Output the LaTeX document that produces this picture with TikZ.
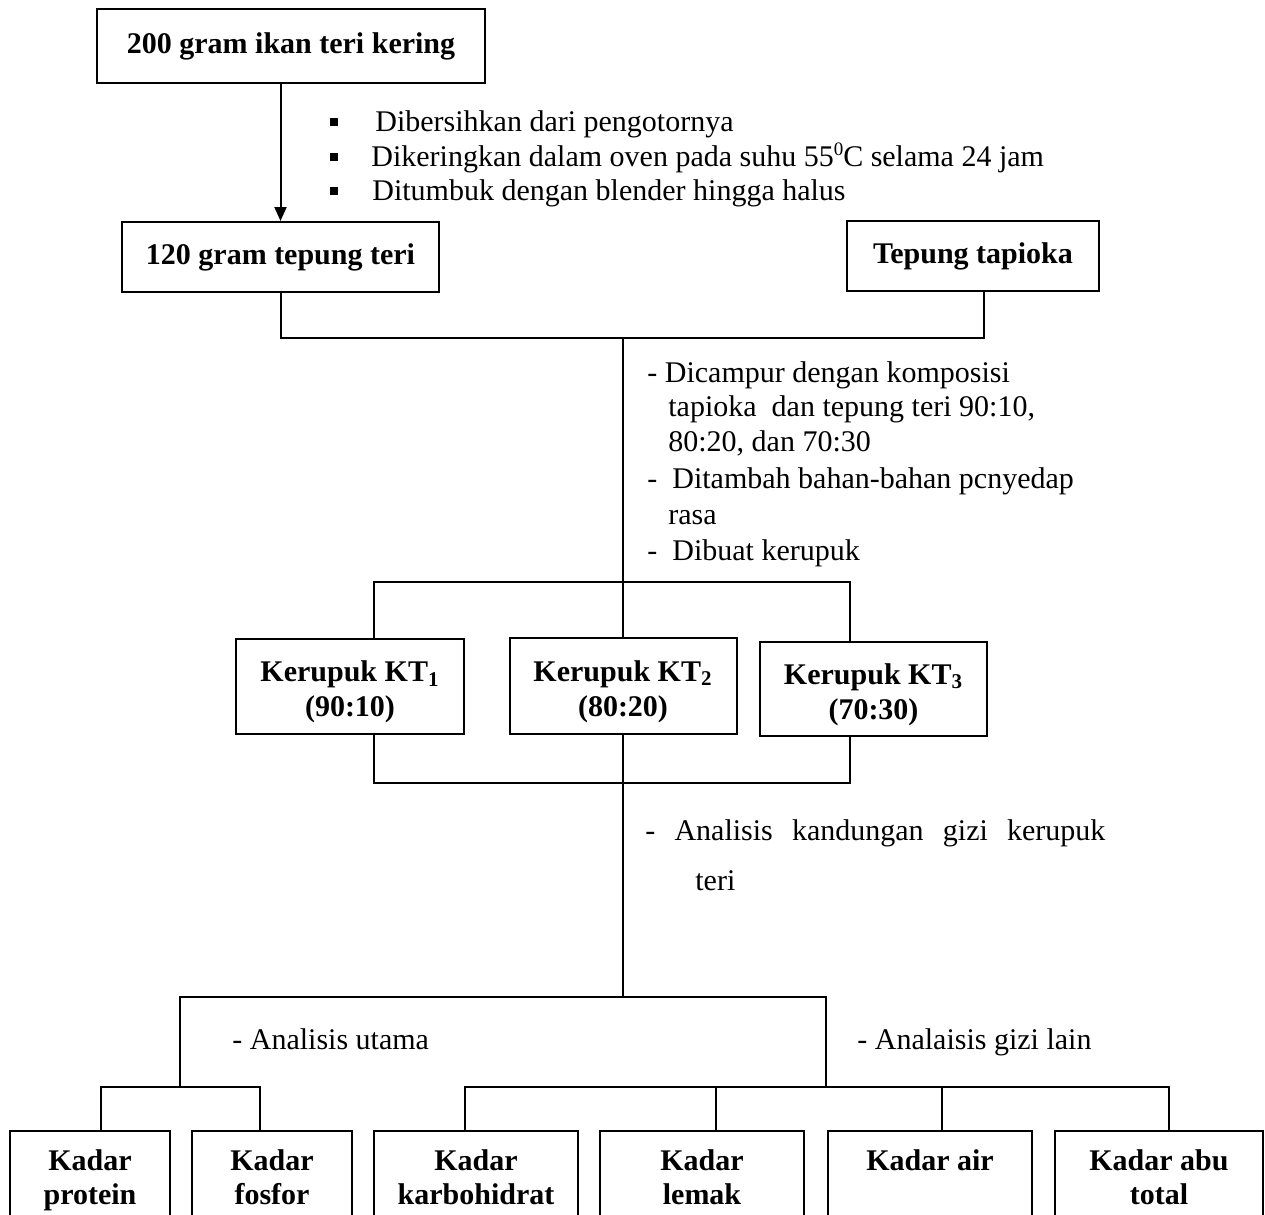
\documentclass[tikz,border=0pt]{standalone}
\usepackage{fontspec}
\setmainfont{Liberation Serif}
\usetikzlibrary{arrows.meta}
\begin{document}
\begin{tikzpicture}[x=0.5pt,y=-0.5pt,
  box/.style={draw, line width=1pt, font=\fontsize{15pt}{17.5pt}\selectfont\bfseries, inner sep=0pt, align=center},
  bbox/.style={draw, line width=1pt, font=\fontsize{15pt}{17pt}\selectfont\bfseries, inner sep=0pt, align=center, minimum height=50pt},
  txt/.style={font=\fontsize{15pt}{17.5pt}\selectfont, inner sep=0pt, anchor=base west},
  conn/.style={line width=1pt}]
\clip (0,0) rectangle (1265,1215);
\fill[white] (0,0) rectangle (1265,1215);

% top boxes
\node[box, minimum width=194pt, minimum height=37pt] (b1) at (291,46) {200 gram ikan teri kering};
\node[box, minimum width=158.5pt, minimum height=35pt] (b2) at (280.5,257) {120 gram tepung teri};
\node[box, minimum width=126pt, minimum height=35pt] (b3) at (973,256) {Tepung tapioka};

% bullet list
\node[txt] (t1) at (330,131) {\rule[2.3pt]{3.8pt}{4.4pt}\hspace*{18.7pt}Dibersihkan dari pengotornya};
\node[txt] (t2) at (330,166) {\rule[2.3pt]{3.8pt}{4.4pt}\hspace*{16.7pt}Dikeringkan dalam oven pada suhu 55\raisebox{5.5pt}{\fontsize{9.5pt}{10pt}\selectfont 0}C selama 24 jam};
\node[txt] (t3) at (330,200) {\rule[2.3pt]{3.8pt}{4.4pt}\hspace*{17.2pt}Ditumbuk dengan blender hingga halus};

\draw[conn,-{Triangle[width=6pt,length=7pt]}] (b1.south -| b2.north) -- (b2.north);

% mixing
\coordinate (j2) at (280.5,338);
\coordinate (j3) at (984,338);
\coordinate (jm) at (623,338);
\draw[conn] (b2.south) -- (j2) -- (j3) -- (b3.south -| j3);

\node[txt] (m1) at (647,382) {- Dicampur dengan komposisi};
\node[txt] (m2) at (668,416) {tapioka\ \ dan tepung teri 90:10,};
\node[txt] (m3) at (668,451) {80:20, dan 70:30};
\node[txt] (m4) at (647,488) {-\hspace*{7.5pt}Ditambah bahan-bahan pcnyedap};
\node[txt] (m5) at (668,524) {rasa};
\node[txt] (m6) at (647,560) {-\hspace*{7.5pt}Dibuat kerupuk};

% kerupuk boxes
\node[box, minimum width=114pt, minimum height=47.5pt] (k1) at (350,686.5) {\rule{0pt}{16pt}Kerupuk KT\textsubscript{1}\\(90:10)};
\node[box, minimum width=113.5pt, minimum height=48pt] (k2) at (623,686) {\rule{0pt}{16pt}Kerupuk KT\textsubscript{2}\\(80:20)};
\node[box, minimum width=113.5pt, minimum height=47pt] (k3) at (873.5,689) {\rule{0pt}{16pt}Kerupuk KT\textsubscript{3}\\(70:30)};

\coordinate (s1) at (374,582);
\coordinate (s3) at (850,582);
\draw[conn] (jm) -- (k2.north);
\draw[conn] (k1.north -| s1) -- (s1) -- (s3) -- (k3.north -| s3);

\coordinate (e1) at (374,783);
\coordinate (e3) at (850,783);
\coordinate (f) at (623,997);
\draw[conn] (k1.south -| e1) -- (e1) -- (e3) -- (k3.south -| e3);
\draw[conn] (k2.south) -- (f);

\node[txt] (a1) at (645,840) {\makebox[230pt][s]{- Analisis kandungan gizi kerupuk}};
\node[txt] (a2) at (695,890) {teri};

% analysis split
\coordinate (fL) at (180,997);
\coordinate (fR) at (826,997);
\coordinate (gL) at (180,1087);
\coordinate (gR) at (826,1087);
\draw[conn] (gL) -- (fL) -- (fR) -- (gR);

\node[txt] (u1) at (232,1049) {- Analisis utama};
\node[txt] (u2) at (857,1049) {- Analaisis gizi lain};

% bottom boxes
\node[bbox, minimum width=80pt] (p1) at (90,1181) {\strut Kadar\\\strut protein};
\node[bbox, minimum width=80pt] (p2) at (272,1181) {\strut Kadar\\\strut fosfor};
\node[bbox, minimum width=102pt] (p3) at (476,1181) {\strut Kadar\\\strut karbohidrat};
\node[bbox, minimum width=102pt] (p4) at (702,1181) {\strut Kadar\\\strut lemak};
\node[bbox, minimum width=102pt] (p5) at (930,1181) {\strut Kadar air\\\strut};
\node[bbox, minimum width=104pt] (p6) at (1159,1181) {\strut Kadar abu\\\strut total};

\coordinate (hL1) at (101,1087);
\coordinate (hL2) at (260,1087);
\draw[conn] (p1.north -| hL1) -- (hL1) -- (hL2) -- (p2.north -| hL2);

\coordinate (hR1) at (465,1087);
\coordinate (hR2) at (716,1087);
\coordinate (hR3) at (942,1087);
\coordinate (hR4) at (1169,1087);
\draw[conn] (p3.north -| hR1) -- (hR1) -- (hR4) -- (p6.north -| hR4);
\draw[conn] (hR2) -- (p4.north -| hR2);
\draw[conn] (hR3) -- (p5.north -| hR3);
\end{tikzpicture}
\end{document}
